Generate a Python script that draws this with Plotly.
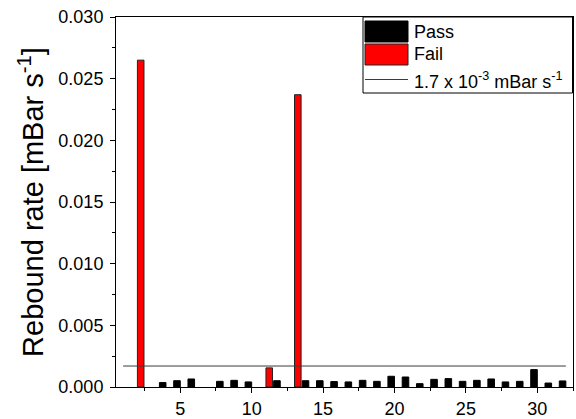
import plotly.graph_objects as go

# ---- data ----
samples = list(range(1, 33))
pass_rate = [None, None, None, 0.00036, 0.00051, 0.00065, None, 0.00046, 0.00054, 0.00041,
             None, 0.00051, None, 0.00051, 0.00051, 0.00044, 0.00041, 0.00054, 0.00046, 0.00087,
             0.00081, 0.00027, 0.00062, 0.00068, 0.00046, 0.00054, 0.00065, 0.00041, 0.00046, 0.00141,
             0.00032, 0.00049]
fail_rate = [None, 0.0265, None, None, None, None, None, None, None, None,
             0.00155, None, 0.0237, None, None, None, None, None, None, None,
             None, None, None, None, None, None, None, None, None, None,
             None, None]
threshold = 0.0017
threshold_x = [1, 32]
x_ticks = [5, 10, 15, 20, 25, 30]
y_ticks = [0.000, 0.005, 0.010, 0.015, 0.020, 0.025, 0.030]

FONT = "Liberation Sans, Arial, sans-serif"
W, H = 576, 419
L, R, T, B = 116, 3, 17, 32
PW, PH = W - L - R, H - T - B


def px(x):
    return (x - L) / PW


def py(y):
    return (H - B - y) / PH


fig = go.Figure()
fig.add_trace(go.Bar(x=samples, y=pass_rate, name="Pass",
                     marker=dict(color="black", line=dict(color="black", width=1)),
                     showlegend=False))
fig.add_trace(go.Bar(x=samples, y=fail_rate, name="Fail",
                     marker=dict(color="#ff0000", line=dict(color="#222222", width=1)),
                     showlegend=False))
fig.add_trace(go.Scatter(x=threshold_x, y=[threshold] * len(threshold_x), mode="lines",
                         line=dict(color="#3a3a3a", width=1), showlegend=False))

axis_common = dict(showline=True, linecolor="black", linewidth=1, mirror=True,
                   ticks="outside", ticklen=5, tickwidth=1, tickcolor="black",
                   showgrid=False, zeroline=False,
                   tickfont=dict(family=FONT, size=18, color="black"))

fig.update_xaxes(range=[0.5, 32.5], tickvals=x_ticks,
                 minor=dict(tickvals=[2.5, 7.5, 12.5, 17.5, 22.5, 27.5, 32.5], ticks="outside",
                            ticklen=3, tickcolor="black", tickwidth=1),
                 ticklabelstandoff=0, **axis_common)
fig.update_yaxes(range=[0, 0.030], tickvals=y_ticks, tickformat=".3f",
                 minor=dict(tickvals=[0.0025, 0.0075, 0.0125, 0.0175, 0.0225, 0.0275], ticks="outside",
                            ticklen=3, tickcolor="black", tickwidth=1),
                 ticklabelstandoff=3,
                 title=dict(text="Rebound rate [mBar s<sup>-1</sup>]",
                            font=dict(family=FONT, size=29, color="black"), standoff=6),
                 **axis_common)

# ---- custom legend (Origin-style) ----
shapes = [
    dict(type="rect", xref="paper", yref="paper", x0=px(363), x1=px(572.5), y0=py(93), y1=py(17),
         line=dict(color="black", width=1), fillcolor="white", layer="above"),
    dict(type="rect", xref="paper", yref="paper", x0=px(365), x1=px(408), y0=py(42), y1=py(21),
         line=dict(color="black", width=1), fillcolor="black", layer="above"),
    dict(type="rect", xref="paper", yref="paper", x0=px(365), x1=px(408), y0=py(65), y1=py(44),
         line=dict(color="#222222", width=1), fillcolor="#ff0000", layer="above"),
    dict(type="line", xref="paper", yref="paper", x0=px(365), x1=px(408), y0=py(79.5), y1=py(79.5),
         line=dict(color="#3a3a3a", width=1), layer="above"),
]
legend_texts = [("Pass", 31.5), ("Fail", 54.5), ("1.7 x 10<sup>-3</sup> mBar s<sup>-1</sup>", 80)]
annotations = [dict(text=t, xref="paper", yref="paper", x=px(412), y=py(yy), xanchor="left",
                    yanchor="middle", showarrow=False,
                    font=dict(family=FONT, size=18, color="black")) for t, yy in legend_texts]

fig.update_layout(width=W, height=H, margin=dict(l=L, r=R, t=T, b=B, autoexpand=False),
                  barmode="group", bargap=0.08, bargroupgap=0,
                  plot_bgcolor="white", paper_bgcolor="white",
                  shapes=shapes, annotations=annotations,
                  font=dict(family=FONT, color="black"))

fig.write_html("out.html")
